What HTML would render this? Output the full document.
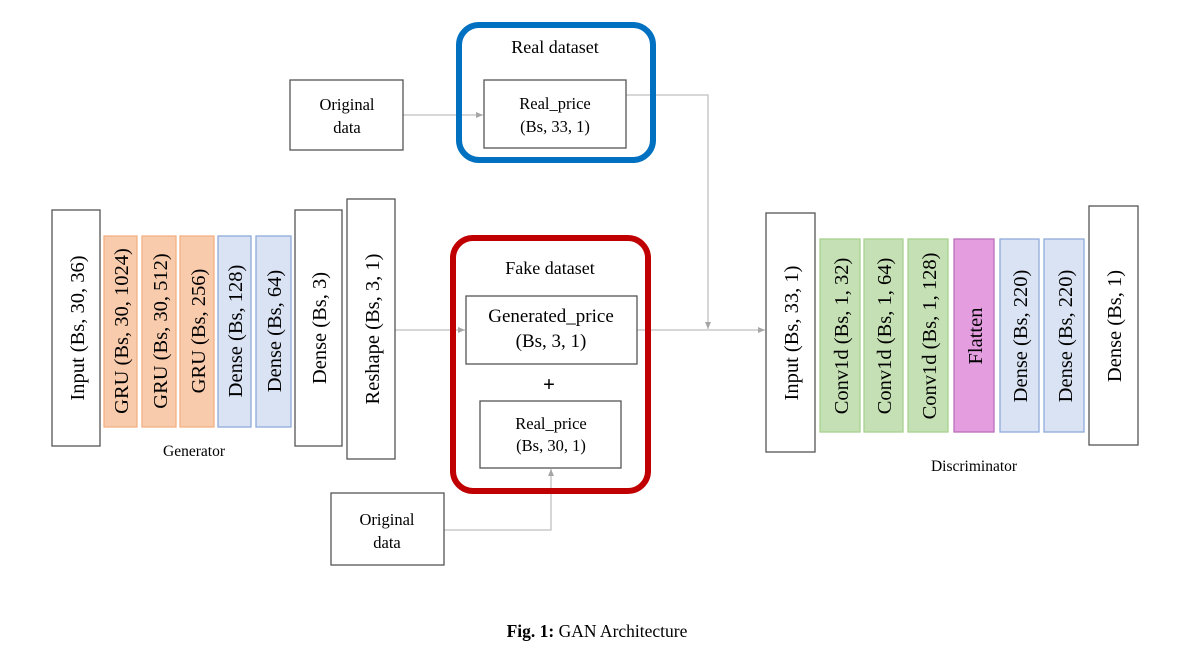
<!DOCTYPE html>
<html><head><meta charset="utf-8"><style>
body{margin:0;background:#fff}
svg{display:block}
text{font-family:"Liberation Serif",serif;fill:#000}
</style></head><body>
<svg width="1194" height="659" viewBox="0 0 1194 659" xmlns="http://www.w3.org/2000/svg">
<defs><marker id="a" markerWidth="8" markerHeight="8" refX="7" refY="4" orient="auto" markerUnits="userSpaceOnUse"><path d="M0,1 L7,4 L0,7 z" fill="#a6a6a6"/></marker></defs>
<g stroke="#bfbfbf" stroke-width="1.3" fill="none">
<path d="M403,115 H483" marker-end="url(#a)"/>
<path d="M626,95 H708 V329" marker-end="url(#a)"/>
<path d="M395,330 H465" marker-end="url(#a)"/>
<path d="M637,330 H765" marker-end="url(#a)"/>
<path d="M444,530 H551 V469" marker-end="url(#a)"/>
</g>
<g stroke-width="1.3">
<rect x="52" y="210" width="48" height="236" fill="#fff" stroke="#555"/>
<rect x="104" y="236" width="33" height="191" fill="#f8cbad" stroke="#f4b183"/>
<rect x="142" y="236" width="34" height="191" fill="#f8cbad" stroke="#f4b183"/>
<rect x="180" y="236" width="34" height="191" fill="#f8cbad" stroke="#f4b183"/>
<rect x="218" y="236" width="33" height="191" fill="#dae3f3" stroke="#8faadc"/>
<rect x="256" y="236" width="35" height="191" fill="#dae3f3" stroke="#8faadc"/>
<rect x="295" y="210" width="47" height="236" fill="#fff" stroke="#555"/>
<rect x="347" y="199" width="48" height="260" fill="#fff" stroke="#555"/>
</g>
<g font-size="20.5" text-anchor="middle">
<text transform="translate(84,328) rotate(-90)">Input (Bs, 30, 36)</text>
<text transform="translate(128,331) rotate(-90)">GRU (Bs, 30, 1024)</text>
<text transform="translate(167,331) rotate(-90)">GRU (Bs, 30, 512)</text>
<text transform="translate(205,331) rotate(-90)">GRU (Bs, 256)</text>
<text transform="translate(242,331) rotate(-90)">Dense (Bs, 128)</text>
<text transform="translate(281,331) rotate(-90)">Dense (Bs, 64)</text>
<text transform="translate(326,328) rotate(-90)">Dense (Bs, 3)</text>
<text transform="translate(379,329) rotate(-90)">Reshape (Bs, 3, 1)</text>
</g>
<text x="194" y="456" font-size="15.5" text-anchor="middle">Generator</text>
<g stroke-width="1.3">
<rect x="766" y="213" width="49" height="239" fill="#fff" stroke="#555"/>
<rect x="820" y="239" width="40" height="193" fill="#c5e0b4" stroke="#a9d18e"/>
<rect x="864" y="239" width="39" height="193" fill="#c5e0b4" stroke="#a9d18e"/>
<rect x="908" y="239" width="40" height="193" fill="#c5e0b4" stroke="#a9d18e"/>
<rect x="954" y="239" width="40" height="193" fill="#e49ee0" stroke="#b870b8"/>
<rect x="1000" y="239" width="39" height="193" fill="#dae3f3" stroke="#8faadc"/>
<rect x="1044" y="239" width="40" height="193" fill="#dae3f3" stroke="#8faadc"/>
<rect x="1089" y="206" width="49" height="239" fill="#fff" stroke="#555"/>
</g>
<g font-size="20.5" text-anchor="middle">
<text transform="translate(798,333) rotate(-90)">Input (Bs, 33, 1)</text>
<text transform="translate(848,336) rotate(-90)">Conv1d (Bs, 1, 32)</text>
<text transform="translate(891,336) rotate(-90)">Conv1d (Bs, 1, 64)</text>
<text transform="translate(936,336) rotate(-90)">Conv1d (Bs, 1, 128)</text>
<text transform="translate(982,336) rotate(-90)">Flatten</text>
<text transform="translate(1027,336) rotate(-90)">Dense (Bs, 220)</text>
<text transform="translate(1072,336) rotate(-90)">Dense (Bs, 220)</text>
<text transform="translate(1121,326) rotate(-90)">Dense (Bs, 1)</text>
</g>
<text x="974" y="471" font-size="15.5" text-anchor="middle">Discriminator</text>
<rect x="459" y="25" width="194" height="135" rx="20" fill="none" stroke="#0070c0" stroke-width="6"/>
<text x="555" y="53" font-size="18" text-anchor="middle">Real dataset</text>
<rect x="484" y="80" width="142" height="68" fill="#fff" stroke="#555" stroke-width="1.3"/>
<text x="555" y="109" font-size="16.5" text-anchor="middle">Real_price</text>
<text x="555" y="132" font-size="16.5" text-anchor="middle">(Bs, 33, 1)</text>
<rect x="290" y="80" width="113" height="70" fill="#fff" stroke="#555" stroke-width="1.3"/>
<text x="347" y="110" font-size="16.5" text-anchor="middle">Original</text>
<text x="347" y="133" font-size="16.5" text-anchor="middle">data</text>
<rect x="453" y="238" width="195" height="253" rx="20" fill="none" stroke="#c00000" stroke-width="6"/>
<text x="550" y="274" font-size="18" text-anchor="middle">Fake dataset</text>
<rect x="466" y="296" width="171" height="68" fill="#fff" stroke="#555" stroke-width="1.3"/>
<text x="551" y="322" font-size="19" text-anchor="middle">Generated_price</text>
<text x="551" y="347" font-size="19" text-anchor="middle">(Bs, 3, 1)</text>
<text x="549" y="391" font-size="21" font-weight="bold" text-anchor="middle" font-family="Liberation Sans">+</text>
<rect x="480" y="401" width="141" height="67" fill="#fff" stroke="#555" stroke-width="1.3"/>
<text x="551" y="429" font-size="16.5" text-anchor="middle">Real_price</text>
<text x="551" y="451" font-size="16.5" text-anchor="middle">(Bs, 30, 1)</text>
<rect x="331" y="493" width="113" height="72" fill="#fff" stroke="#555" stroke-width="1.3"/>
<text x="387" y="525" font-size="16.5" text-anchor="middle">Original</text>
<text x="387" y="548" font-size="16.5" text-anchor="middle">data</text>
<text x="597" y="637" font-size="17.5" text-anchor="middle"><tspan font-weight="bold">Fig. 1:</tspan> GAN Architecture</text>
</svg>
</body></html>
